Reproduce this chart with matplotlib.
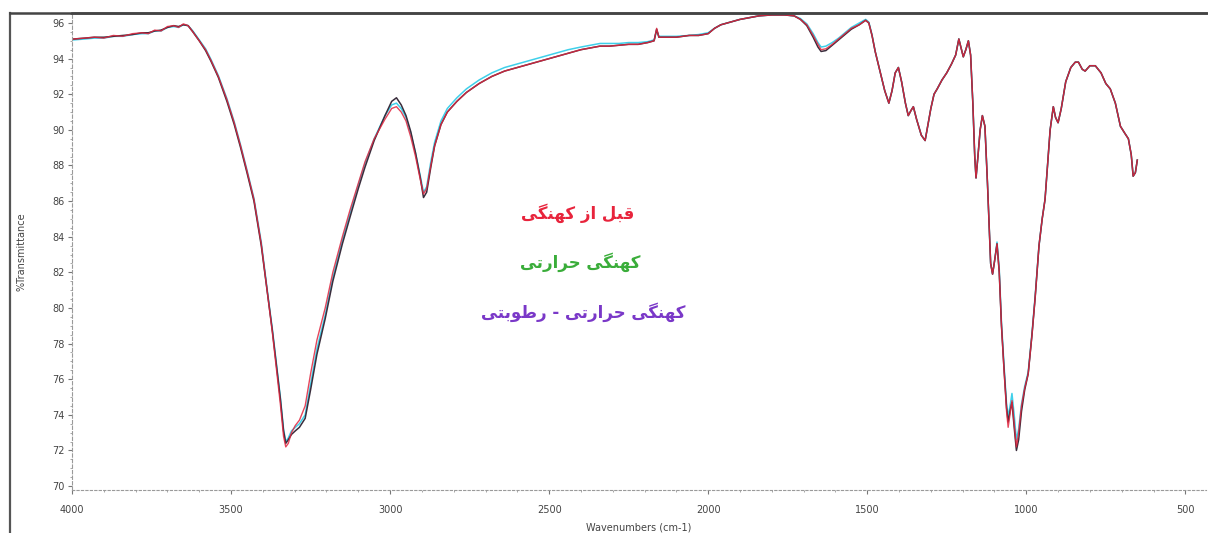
import matplotlib
matplotlib.use("Agg")
import matplotlib.pyplot as plt
from matplotlib.lines import Line2D
from matplotlib.ticker import MultipleLocator

# FTIR spectra
wavenumber = [
    3995, 3960, 3930, 3900, 3870, 3840, 3810, 3780, 3760, 3740,
    3720, 3700, 3680, 3665, 3650, 3635, 3620, 3600, 3580, 3563,
    3540, 3513, 3490, 3470, 3450, 3428, 3405, 3384, 3370, 3358,
    3345, 3335, 3328, 3320, 3310, 3298, 3285, 3267, 3250, 3230,
    3204, 3180, 3150, 3126, 3100, 3079, 3050, 3016, 2995, 2980,
    2965, 2950, 2935, 2920, 2905, 2895, 2885, 2872, 2860, 2840,
    2820, 2790, 2760, 2720, 2680, 2640, 2600, 2560, 2520, 2480,
    2440, 2400, 2370, 2340, 2310, 2280, 2250, 2220, 2190, 2170,
    2162, 2155, 2140, 2100, 2060, 2030, 2000, 1980, 1960, 1930,
    1900, 1870, 1840, 1800, 1760, 1730, 1710, 1690, 1670, 1655,
    1645, 1630, 1610, 1590, 1570, 1550, 1525, 1505, 1495, 1485,
    1475, 1460, 1445, 1432, 1422, 1412, 1402, 1392, 1380, 1371,
    1362, 1355, 1345, 1330, 1318, 1310, 1300, 1290, 1280, 1265,
    1250, 1235, 1222, 1212, 1205, 1198, 1190, 1182, 1175, 1168,
    1162, 1158, 1152, 1145, 1138, 1130, 1122, 1112, 1106, 1100,
    1092, 1085, 1078, 1070, 1062, 1057, 1050, 1045, 1038, 1031,
    1024, 1015, 1005, 994, 982, 972, 960, 950, 941, 932,
    925, 915, 908, 900, 890, 876, 860, 846, 836, 824,
    815, 800, 783, 765, 750, 736, 720, 704, 690, 679,
    670, 664, 657, 651,
]

before_aging = [
    95.10, 95.15, 95.20, 95.15, 95.30, 95.25, 95.40, 95.45, 95.40, 95.60,
    95.55, 95.80, 95.85, 95.75, 95.95, 95.85, 95.50, 95.00, 94.50, 93.90,
    93.00, 91.70, 90.40, 89.10, 87.70, 86.10, 83.60, 80.60, 78.60, 76.70,
    74.60, 72.80, 72.20, 72.40, 73.00, 73.40, 73.70, 74.50, 76.30, 78.20,
    80.00, 82.00, 84.00, 85.50, 87.00, 88.20, 89.50, 90.60, 91.20, 91.30,
    91.00, 90.50, 89.60, 88.50, 87.20, 86.40, 86.70, 88.00, 89.10, 90.30,
    91.00, 91.60, 92.10, 92.60, 93.00, 93.30, 93.50, 93.70, 93.90, 94.10,
    94.30, 94.50, 94.60, 94.70, 94.70, 94.75, 94.80, 94.80, 94.90, 95.00,
    95.70, 95.20, 95.20, 95.20, 95.30, 95.30, 95.40, 95.70, 95.90, 96.05,
    96.20, 96.30, 96.40, 96.45, 96.45, 96.40, 96.20, 95.90, 95.30, 94.80,
    94.50, 94.55, 94.80, 95.10, 95.40, 95.70, 95.90, 96.15, 96.00, 95.30,
    94.40, 93.30, 92.20, 91.50, 92.20, 93.20, 93.50, 92.70, 91.50, 90.80,
    91.10, 91.30, 90.60, 89.70, 89.40, 90.20, 91.20, 92.00, 92.30, 92.80,
    93.20, 93.70, 94.20, 95.10, 94.60, 94.10, 94.50, 95.00, 94.20, 91.50,
    88.50, 87.30, 88.50, 90.00, 90.80, 90.20, 87.00, 82.50, 81.90, 82.60,
    83.60, 82.00, 79.00, 76.50, 74.20, 73.30, 74.20, 74.80, 73.50, 72.20,
    73.00, 74.50, 75.50, 76.30, 78.50, 80.60, 83.50, 85.00, 86.10, 88.30,
    90.00, 91.30, 90.70, 90.40, 91.20, 92.70, 93.50, 93.80, 93.80, 93.40,
    93.30, 93.60, 93.60, 93.20, 92.60, 92.30, 91.50, 90.20, 89.80, 89.50,
    88.60, 87.40, 87.60, 88.30,
]

thermal_aging = [
    95.10, 95.15, 95.20, 95.20, 95.25, 95.30, 95.35, 95.45, 95.45, 95.55,
    95.60, 95.75, 95.85, 95.80, 95.90, 95.85, 95.50, 95.00, 94.45, 93.85,
    92.95, 91.60, 90.30, 89.00, 87.60, 86.00, 83.50, 80.60, 78.70, 76.90,
    74.90, 73.10, 72.40, 72.60, 72.90, 73.10, 73.30, 73.80, 75.40, 77.40,
    79.40, 81.50, 83.60, 85.10, 86.70, 87.90, 89.40, 90.80, 91.60, 91.80,
    91.40, 90.80, 89.90, 88.70, 87.30, 86.20, 86.50, 87.90, 89.10, 90.30,
    91.00, 91.60, 92.10, 92.60, 93.00, 93.30, 93.50, 93.70, 93.90, 94.10,
    94.30, 94.50, 94.60, 94.70, 94.70, 94.75, 94.80, 94.80, 94.90, 95.00,
    95.65, 95.20, 95.20, 95.20, 95.30, 95.30, 95.40, 95.70, 95.90, 96.05,
    96.20, 96.30, 96.40, 96.45, 96.45, 96.40, 96.20, 95.85, 95.20, 94.65,
    94.40, 94.45, 94.75, 95.05, 95.35, 95.65, 95.90, 96.15, 96.00, 95.30,
    94.40, 93.30, 92.20, 91.50, 92.20, 93.20, 93.50, 92.70, 91.50, 90.80,
    91.10, 91.30, 90.60, 89.70, 89.40, 90.20, 91.20, 92.00, 92.30, 92.80,
    93.20, 93.70, 94.20, 95.10, 94.60, 94.10, 94.50, 95.00, 94.20, 91.50,
    88.50, 87.30, 88.50, 90.00, 90.80, 90.20, 87.00, 82.50, 81.90, 82.60,
    83.60, 82.00, 79.00, 76.60, 74.40, 73.60, 74.30, 74.70, 73.30, 72.00,
    72.60, 74.20, 75.40, 76.30, 78.50, 80.60, 83.50, 85.00, 86.10, 88.30,
    90.00, 91.30, 90.70, 90.40, 91.20, 92.70, 93.50, 93.80, 93.80, 93.40,
    93.30, 93.60, 93.60, 93.20, 92.60, 92.30, 91.50, 90.20, 89.80, 89.50,
    88.60, 87.40, 87.60, 88.30,
]

thermo_humid_aging = [
    95.05, 95.10, 95.15, 95.15, 95.25, 95.25, 95.35, 95.40, 95.40, 95.55,
    95.55, 95.75, 95.80, 95.75, 95.90, 95.85, 95.55, 95.05, 94.55, 93.95,
    93.05, 91.75, 90.45, 89.15, 87.75, 86.15, 83.70, 80.70, 78.80, 77.00,
    75.00, 73.20, 72.50, 72.70, 73.10, 73.30, 73.50, 74.00, 75.70, 77.70,
    79.60, 81.70, 83.80, 85.30, 86.90, 88.10, 89.50, 90.80, 91.40, 91.50,
    91.20, 90.70, 89.80, 88.70, 87.40, 86.50, 86.80, 88.20, 89.30, 90.50,
    91.20, 91.80, 92.30, 92.80, 93.20, 93.50, 93.70, 93.90, 94.10, 94.30,
    94.50, 94.65, 94.75, 94.85, 94.85, 94.85, 94.90, 94.90, 94.95, 95.05,
    95.60, 95.25, 95.25, 95.25, 95.30, 95.35, 95.45, 95.70, 95.90, 96.05,
    96.20, 96.30, 96.40, 96.45, 96.45, 96.40, 96.25, 95.95, 95.40, 94.90,
    94.65, 94.70, 94.90, 95.15, 95.45, 95.75, 96.00, 96.20, 96.05, 95.35,
    94.40, 93.30, 92.20, 91.50, 92.20, 93.20, 93.50, 92.70, 91.50, 90.80,
    91.10, 91.30, 90.60, 89.70, 89.40, 90.20, 91.20, 92.00, 92.30, 92.80,
    93.20, 93.70, 94.20, 95.10, 94.60, 94.10, 94.50, 95.00, 94.20, 91.50,
    88.50, 87.30, 88.50, 90.00, 90.80, 90.20, 87.00, 82.50, 81.90, 82.60,
    83.70, 82.20, 79.20, 76.80, 74.60, 73.90, 74.60, 75.20, 74.00, 72.60,
    73.20, 74.60, 75.60, 76.40, 78.60, 80.70, 83.50, 85.00, 86.10, 88.30,
    90.00, 91.30, 90.70, 90.40, 91.20, 92.70, 93.50, 93.80, 93.80, 93.40,
    93.30, 93.60, 93.60, 93.20, 92.60, 92.30, 91.50, 90.20, 89.80, 89.50,
    88.60, 87.40, 87.60, 88.30,
]

labels = ["قبل از کهنگی", "کهنگی حرارتی", "کهنگی حرارتی - رطوبتی"]
label_colors = ["#e8243c", "#3aad3a", "#7a38c8"]

# matplotlib does no arabic shaping, so pick presentation forms by hand
FORMS = {
    "ا": ("\uFE8D", "\uFE8E", None, None),
    "ب": ("\uFE8F", "\uFE90", "\uFE91", "\uFE92"),
    "ت": ("\uFE95", "\uFE96", "\uFE97", "\uFE98"),
    "ح": ("\uFEA1", "\uFEA2", "\uFEA3", "\uFEA4"),
    "ر": ("\uFEAD", "\uFEAE", None, None),
    "ز": ("\uFEAF", "\uFEB0", None, None),
    "ط": ("\uFEC1", "\uFEC2", "\uFEC3", "\uFEC4"),
    "ق": ("\uFED5", "\uFED6", "\uFED7", "\uFED8"),
    "ل": ("\uFEDD", "\uFEDE", "\uFEDF", "\uFEE0"),
    "ن": ("\uFEE5", "\uFEE6", "\uFEE7", "\uFEE8"),
    "ه": ("\uFEE9", "\uFEEA", "\uFEEB", "\uFEEC"),
    "و": ("\uFEED", "\uFEEE", None, None),
    "ک": ("\uFB8E", "\uFB8F", "\uFB90", "\uFB91"),
    "گ": ("\uFB92", "\uFB93", "\uFB94", "\uFB95"),
    "ی": ("\uFBFC", "\uFBFD", "\uFBFE", "\uFBFF"),
}


def shape(s):
    out = []
    for i, c in enumerate(s):
        if c not in FORMS:
            out.append(c)
            continue
        p = s[i - 1] if i > 0 else " "
        n = s[i + 1] if i + 1 < len(s) else " "
        joins_prev = p in FORMS and FORMS[p][2] is not None
        joins_next = FORMS[c][2] is not None and n in FORMS
        iso, fin, ini, med = FORMS[c]
        if joins_prev and joins_next:
            out.append(med)
        elif joins_prev:
            out.append(fin)
        elif joins_next:
            out.append(ini)
        else:
            out.append(iso)
    return "".join(reversed(out))


W, H = 1208, 533
fig = plt.figure(figsize=(W / 100, H / 100), dpi=100)
ax = fig.add_axes([72 / W, 1 - 490 / H, (1206 - 72) / W, (490 - 13) / H])

ax.plot(wavenumber, thermo_humid_aging, color="#3fd0ea", lw=1.1)
ax.plot(wavenumber, thermal_aging, color="#3a2d3c", lw=1.1)
ax.plot(wavenumber, before_aging, color="#e0263f", lw=1.0, alpha=0.85)

ax.set_xlim(4000, 435)
ax.set_ylim(69.78, 96.56)
ax.xaxis.set_major_locator(MultipleLocator(500))
ax.xaxis.set_minor_locator(MultipleLocator(100))
ax.yaxis.set_major_locator(MultipleLocator(2))
ax.yaxis.set_minor_locator(MultipleLocator(0.5))
ax.tick_params(axis="both", which="major", labelsize=7, labelcolor="#444444",
               color="#777777", length=3, width=0.8, pad=2)
ax.tick_params(axis="x", which="major", pad=8)
ax.tick_params(axis="both", which="minor", color="#999999", length=1.5, width=0.6)

for side in ["left", "bottom"]:
    ax.spines[side].set_color("#9a9a9a")
    ax.spines[side].set_linewidth(0.8)
ax.spines["left"].set_linestyle((0, (3, 2)))
ax.spines["bottom"].set_linestyle((0, (2, 2)))
ax.spines["right"].set_visible(False)
ax.spines["top"].set_color("#444444")
ax.spines["top"].set_linewidth(1.8)

ax.set_xlabel("Wavenumbers (cm-1)", fontsize=7, color="#444444", labelpad=5)
ax.set_ylabel("%Transmittance", fontsize=7, color="#444444", labelpad=19)

# outer frame lines
fig.add_artist(Line2D([10 / W, 10 / W], [0, 1 - 13 / H], color="#555555", lw=1.6))
fig.add_artist(Line2D([10 / W, 1], [1 - 13 / H, 1 - 13 / H], color="#444444", lw=1.8))

for txt, col, (px, py) in zip(labels, label_colors, [(578, 213), (580, 262), (583, 312)]):
    fig.text(px / W, 1 - py / H, shape(txt), color=col, fontsize=12,
             fontweight="bold", family=["DejaVu Sans"], ha="center", va="center")

fig.savefig("out.png", dpi=100)
